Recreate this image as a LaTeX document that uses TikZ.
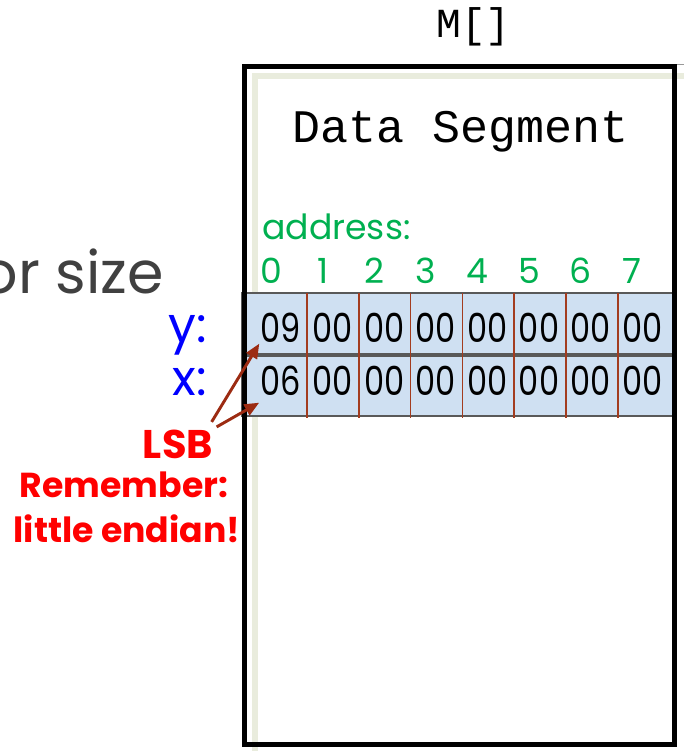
\documentclass[tikz,border=0pt]{standalone}
\usepackage{fontspec}
\newfontfamily\gothic{Poppins}
\newfontfamily\gothicnarrow[FakeStretch=0.8]{Poppins}
\newfontfamily\typewriter{Liberation Mono}
\usetikzlibrary{arrows.meta,positioning}
\definecolor{addrgreen}{HTML}{00B050}
\definecolor{cellblue}{HTML}{CFE0F2}
\definecolor{divred}{HTML}{A33C1F}
\definecolor{arrowred}{HTML}{9C2B12}
\definecolor{stripe}{HTML}{E9ECDD}
\definecolor{slidegray}{HTML}{404040}
\tikzset{
  segframe/.style={draw=black, line width=3.75pt, minimum width=322.5pt, minimum height=508pt, inner sep=0pt},
  rowbox/.style={draw=black!65, fill=cellblue, line width=1pt, minimum width=325.5pt, minimum height=45pt, inner sep=0pt},
  bytetext/.style={font=\gothicnarrow\fontsize{30}{30}\selectfont, anchor=base, inner sep=1pt},
  addrtext/.style={font=\gothic\fontsize{26}{26}\selectfont, text=addrgreen, anchor=base, inner sep=0pt},
  varlabel/.style={font=\gothic\fontsize{37}{37}\selectfont, text=blue, anchor=base east, inner sep=0pt},
  notetext/.style={font=\gothic\bfseries\fontsize{26}{30}\selectfont, text=red, anchor=base, inner sep=1pt},
  lsbarrow/.style={-{Triangle[length=11pt,width=9pt]}, line width=2.2pt, draw=arrowred},
}

\begin{document}
\begin{tikzpicture}[x=0.75pt, y=-0.75pt]
    \clip (0,0) rectangle (684,751);
    % slide background stripe
    \fill[stripe] (252,73) rectangle (258,751);
    \fill[stripe] (252,73) rectangle (684,79);
    \draw[black!40, line width=0.6pt] (677,64) -- (684,64);
    % the two 8-byte variables
    \node[rowbox, minimum height=45.75pt] (yrow) at (459,323.5) {};
    \node[rowbox] (xrow) at (459,386) {};
    \foreach \i in {0,...,6}
        \draw[divred, line width=1.2pt] (307+51.8*\i,293) -- (307+51.8*\i,418);
    \foreach \b [count=\i from 0] in {09,00,00,00,00,00,00,00}
        \node[bytetext] (y\i) at (281+51.6*\i,342) {\b};
    \foreach \b [count=\i from 0] in {06,00,00,00,00,00,00,00}
        \node[bytetext] (x\i) at (281+51.6*\i,395) {\b};
    % memory frame on top
    \node[segframe] (seg) at (459.5,405.5) {};
    \node[font=\typewriter\fontsize{31}{31}\selectfont, anchor=base] (mname) at (473.5,37) {M[]};
    \node[font=\typewriter\fontsize{35}{35}\selectfont, anchor=base] (title) at (461,142) {Data Segment};
    % addresses
    \node[addrtext, anchor=base west] (addr) at (262,239) {address:};
    \foreach \i in {0,...,7}
        \node[addrtext] (a\i) at (271+51.6*\i,283) {\i};
    % labels left of the memory
    \node[font=\gothic\fontsize{44}{44}\selectfont, text=slidegray, anchor=base east, inner sep=0pt] (cut) at (164,293) {or size};
    \node[varlabel] (ylab) at (207,342) {y:};
    \node[varlabel] (xlab) at (207,395) {x:};
    \node[notetext, font=\gothic\bfseries\fontsize{30}{30}\selectfont] (lsb) at (178,458) {LSB};
    \node[notetext] (note1) at (124,497) {Remember:};
    \node[notetext] (note2) at (127,542) {little endian!};
    \draw[lsbarrow] ([shift={(-3,-6)}]lsb.north east) -- (y0.south west);
    \draw[lsbarrow] ([shift={(2,-1)}]lsb.north east) -- ([shift={(0,6)}]x0.south west);
\end{tikzpicture}
\end{document}
